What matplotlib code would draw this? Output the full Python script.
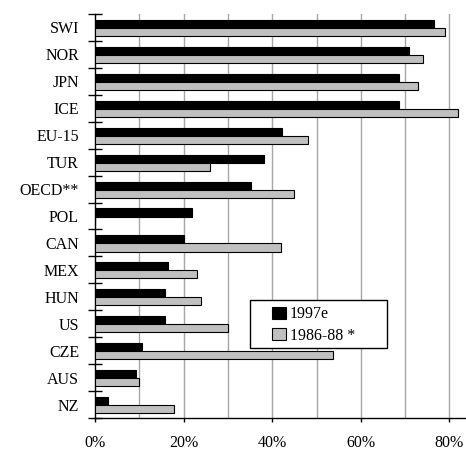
import matplotlib
matplotlib.use("Agg")
import matplotlib.pyplot as plt
from matplotlib.patches import Rectangle
import numpy as np

countries = ["SWI", "NOR", "JPN", "ICE", "EU-15", "TUR", "OECD**", "POL",
             "CAN", "MEX", "HUN", "US", "CZE", "AUS", "NZ"]
v1997 = [76.5, 70.8, 68.7, 68.7, 42.1, 38.1, 35.2, 22.0, 20.2, 16.4, 15.8, 15.8, 10.7, 9.2, 3.0]
v1986 = [79.0, 74.0, 73.0, 82.0, 48.0, 26.0, 45.0, 0.0, 42.0, 23.0, 24.0, 30.0, 53.8, 9.9, 17.9]
xticks = [0, 20, 40, 60, 80]
xticklabels = ["0%", "20%", "40%", "60%", "80%"]

plt.rcParams['font.family'] = ['Liberation Serif', 'DejaVu Serif']

fig = plt.figure(figsize=(4.66, 4.51), dpi=100)
ax = fig.add_axes([95/466, 1-418/451, 371/466, 404/451])

n = len(countries)
idx = np.arange(n)
h = 0.3
ax.barh(idx + 0.37, v1997, height=h, color='black', edgecolor='black', linewidth=0.8,
        label='1997e', zorder=3)
ax.barh(idx + 0.67, v1986, height=h, color='#c0c0c0', edgecolor='black', linewidth=0.8,
        label='1986-88 *', zorder=3)

ax.set_ylim(n, 0)
ax.set_xlim(0, 371/4.43)

for x in np.arange(10, 90, 10):
    ax.axvline(x, color='#a6a6a6', linewidth=1.0, zorder=1)

ax.set_yticks(np.arange(0, n + 1))
ax.set_yticklabels([])
ax.set_yticks(idx + 0.5, minor=True)
ax.set_yticklabels(countries, minor=True, fontsize=11.5)
ax.tick_params(axis='y', which='major', direction='inout', length=9.5, width=1)
ax.tick_params(axis='y', which='minor', length=0, pad=11.5)

ax.set_xticks(xticks)
ax.set_xticklabels(xticklabels, fontsize=11.5)
ax.tick_params(axis='x', direction='out', length=3, width=1, pad=9)

for s in ['top', 'right']:
    ax.spines[s].set_visible(False)
ax.spines['left'].set_linewidth(1)
ax.spines['bottom'].set_linewidth(1)

# legend frame
ax.add_patch(Rectangle((0.418, 0.173), 0.369, 0.119, transform=ax.transAxes,
                       facecolor='white', edgecolor='black', linewidth=1, zorder=4))
leg = ax.legend(loc='center left', bbox_to_anchor=(0.478, 0.230),
                frameon=False, fontsize=11.5,
                handlelength=0.85, handleheight=0.8, handletextpad=0.25,
                labelspacing=0.35, borderpad=0, borderaxespad=0)
leg.set_zorder(5)

fig.savefig("out.png", dpi=100)
